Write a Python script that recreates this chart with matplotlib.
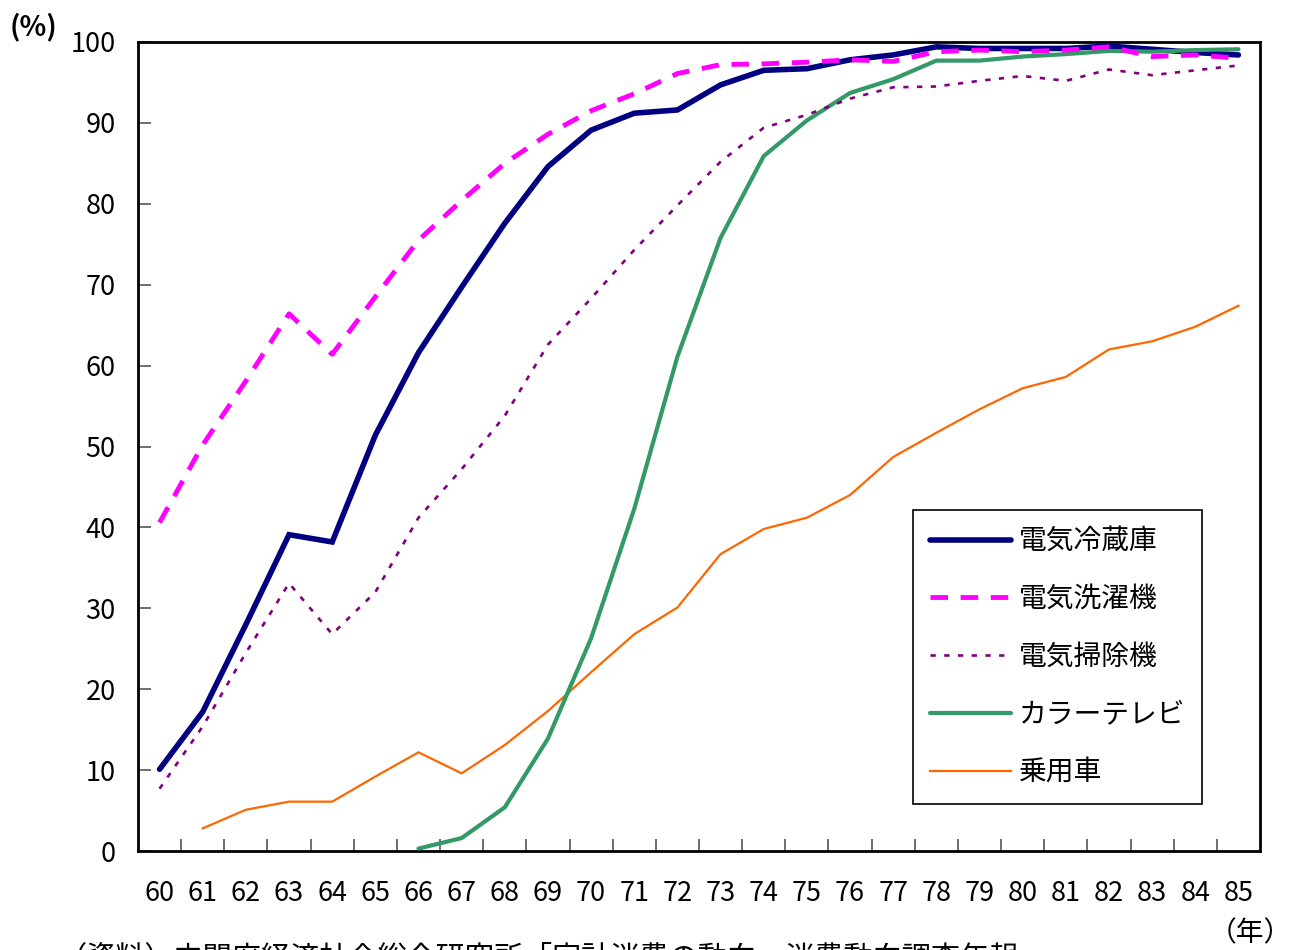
import numpy as np
import matplotlib
matplotlib.use("Agg")
from matplotlib import pyplot as plt

plt.rcParams['font.family'] = ['Noto Sans CJK JP', 'DejaVu Sans']

# 年次 (西暦下2桁)
years = [str(y) for y in range(60, 86)]

nan = np.nan
# 普及率 (%)
refrigerator = [10.1, 17.2, 28.0, 39.1, 38.2, 51.4, 61.6, 69.7, 77.6, 84.6,
                89.1, 91.2, 91.6, 94.7, 96.5, 96.7, 97.8, 98.4, 99.4, 99.2,
                99.2, 99.2, 99.5, 99.1, 98.7, 98.4]
washer = [40.6, 50.2, 58.1, 66.4, 61.4, 68.5, 75.5, 80.4, 85.0, 88.6,
          91.5, 93.6, 96.1, 97.2, 97.3, 97.5, 97.8, 97.6, 98.8, 99.0,
          98.8, 99.0, 99.4, 98.2, 98.4, 98.0]
vacuum = [7.7, 15.4, 24.5, 33.1, 26.8, 32.0, 41.2, 47.2, 53.8, 62.6,
          68.3, 74.3, 79.8, 85.2, 89.4, 91.0, 93.0, 94.4, 94.5, 95.2,
          95.8, 95.2, 96.6, 95.9, 96.5, 97.1]
color_tv = [nan, nan, nan, nan, nan, nan, 0.3, 1.6, 5.4, 13.9,
            26.3, 42.3, 61.1, 75.8, 85.9, 90.3, 93.7, 95.4, 97.7, 97.7,
            98.2, 98.5, 98.9, 98.8, 99.0, 99.1]
car = [nan, 2.8, 5.1, 6.1, 6.1, 9.2, 12.2, 9.6, 13.1, 17.3,
       22.1, 26.8, 30.1, 36.7, 39.8, 41.2, 44.0, 48.7, 51.7, 54.6,
       57.2, 58.6, 62.0, 63.0, 64.8, 67.4]

labels = ['電気冷蔵庫', '電気洗濯機', '電気掃除機', 'カラーテレビ', '乗用車']

W, H = 1292, 950
fig = plt.figure(figsize=(W / 100, H / 100), dpi=100)
ax = fig.add_axes([138 / W, (H - 851) / H, (1260 - 138) / W, (851 - 42) / H])

x = np.arange(len(years))
ax.plot(x, refrigerator, color='#000080', lw=4.0, solid_capstyle='round',
        solid_joinstyle='miter', label=labels[0], zorder=3)
ax.plot(x, washer, color='#FF00FF', lw=3.5, dashes=(3.6, 2.6),
        dash_capstyle='butt', label=labels[1], zorder=4)
ax.plot(x, vacuum, color='#800080', lw=1.9, dashes=(2.0, 3.2),
        dash_capstyle='butt', label=labels[2], zorder=4)
ax.plot(x, color_tv, color='#339966', lw=3.0, solid_capstyle='round',
        label=labels[3], zorder=3)
ax.plot(x, car, color='#FF6600', lw=1.6, label=labels[4], zorder=2)

ax.set_xlim(-0.5, len(years) - 0.5)
ax.set_ylim(0, 100)

# x軸: ラベルは項目の中央、目盛り線は項目の境目
ax.set_xticks(x)
ax.set_xticklabels(years, fontsize=19.5)
ax.tick_params(axis='x', which='major', length=0, pad=21)
ax.set_xticks(np.arange(0.5, len(years) - 1, 1.0), minor=True)
ax.tick_params(axis='x', which='minor', direction='in', length=9,
               width=1.2, color='#555555')

ax.set_yticks(np.arange(0, 101, 10))
ax.tick_params(axis='y', direction='in', length=9, width=1.2,
               color='#555555', labelsize=19.5, pad=16)

for s in ax.spines.values():
    s.set_linewidth(2.0)
    s.set_color('black')

leg = ax.legend(loc='lower left', bbox_to_anchor=(0.691, 0.058),
                fontsize=20, handlelength=2.9, handletextpad=0.3,
                labelspacing=1.0, borderpad=0.6, borderaxespad=0,
                frameon=True, fancybox=False, framealpha=1, edgecolor='black')
leg.get_frame().set_linewidth(1.2)

fig.text(10 / W, (H - 27) / H, '(%)', fontsize=20, fontweight='bold',
         va='center', ha='left')
fig.text(1292 / W, (H - 933) / H, '（年）', fontsize=20, va='center', ha='right')
fig.text(58 / W, (H - 943) / H,
         '（資料）内閣府経済社会総合研究所「家計消費の動向―消費動向調査年報」',
         fontsize=21, va='top', ha='left')

fig.savefig('out.png', dpi=100)
